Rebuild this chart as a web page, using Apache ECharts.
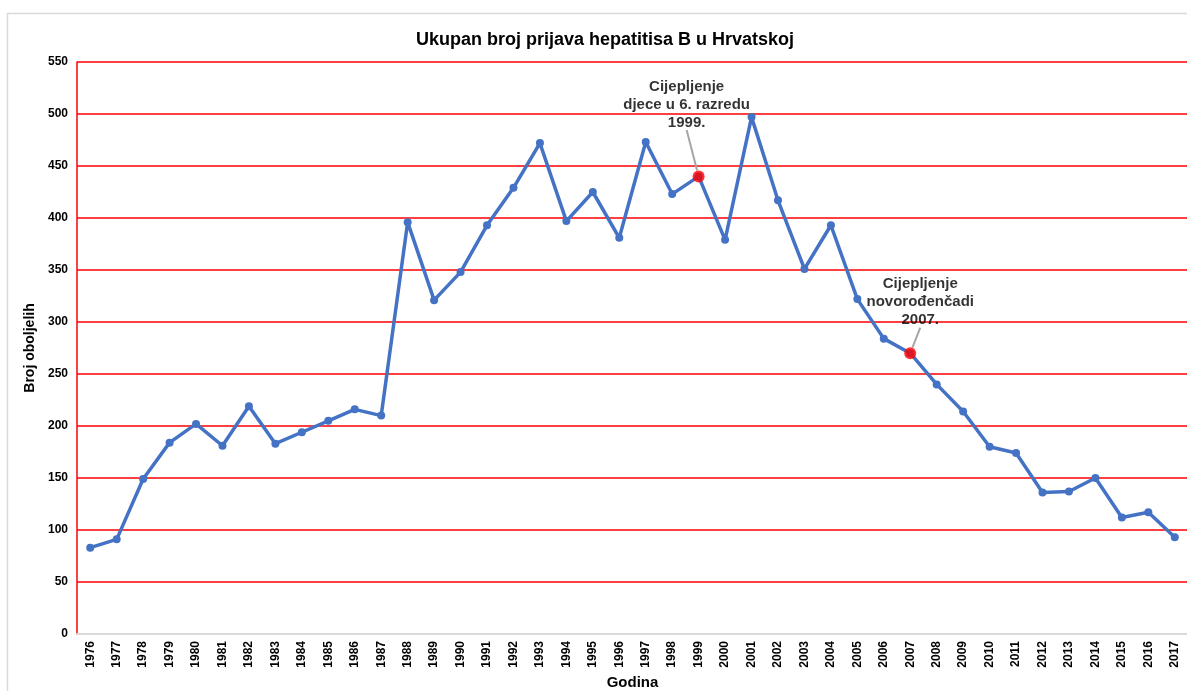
<!DOCTYPE html>
<html>
<head>
<meta charset="UTF-8">
<title>Hepatitis B</title>
<script src="https://cdn.jsdelivr.net/npm/echarts@6/dist/echarts.min.js"></script>
<style>
html, body { margin: 0; padding: 0; background: #fff; }
#chart { width: 1187px; height: 691px; }
</style>
</head>
<body>
<div id="chart"></div>
<script>
const years = ['1976','1977','1978','1979','1980','1981','1982','1983','1984','1985','1986','1987','1988','1989','1990','1991','1992','1993','1994','1995','1996','1997','1998','1999','2000','2001','2002','2003','2004','2005','2006','2007','2008','2009','2010','2011','2012','2013','2014','2015','2016','2017'];
const cases = [83, 91, 149, 184, 202, 181, 219, 183, 194, 205, 216, 210, 396, 321, 348, 393, 429, 472, 397, 425, 381, 473, 423, 440, 379, 497, 417, 351, 393, 322, 284, 270, 240, 214, 180, 174, 136, 137, 150, 112, 117, 93];
// annotated years: [year, text lines, dx, dy]
const notes = [
    ['1999', ['Cijepljenje', 'djece u 6. razredu', '1999.'], -12, -34],
    ['2007', ['Cijepljenje', 'novorođenčadi', '2007.'], 10, -13]
];

const chart = echarts.init(document.getElementById('chart'));
const font = 'Arial, "Liberation Sans", sans-serif';

const noteData = notes.map(function (n) {
    const i = years.indexOf(n[0]);
    return {
        value: [n[0], cases[i]],
        label: {
            formatter: n[1].map(function (s) { return '{t|' + s + '}'; }).join('\n')
        },
        dx: n[2], dy: n[3]
    };
});

chart.setOption({
    animation: false,
    textStyle: { fontFamily: font },
    title: {
        text: 'Ukupan broj prijava hepatitisa B u Hrvatskoj',
        left: 600, top: 26, textAlign: 'center',
        textStyle: { fontSize: 18, fontWeight: 'bold', color: '#000', fontFamily: font }
    },
    graphic: [{
        type: 'rect', silent: true, z: -1,
        shape: { x: 7.5, y: 13.5, width: 1300, height: 800 },
        style: { fill: 'none', stroke: '#d9d9d9', lineWidth: 1.5 }
    }],
    grid: { left: 77, right: -1, top: 62, bottom: 57, outerBoundsMode: 'none', containLabel: false },
    xAxis: {
        type: 'category',
        data: years,
        boundaryGap: true,
        z: 2,
        name: 'Godina',
        nameLocation: 'middle',
        nameGap: 39,
        nameTextStyle: { fontSize: 15, fontWeight: 'bold', color: '#000' },
        axisLine: { lineStyle: { color: '#d9d9d9', width: 2 } },
        axisTick: { show: false },
        axisLabel: {
            rotate: 90, interval: 0, margin: 7,
            fontSize: 12, fontWeight: 'bold', color: '#000'
        }
    },
    yAxis: {
        type: 'value',
        min: 0, max: 550, interval: 50,
        name: 'Broj oboljelih',
        nameLocation: 'middle',
        nameGap: 36,
        nameTextStyle: { fontSize: 14, fontWeight: 'bold', color: '#000' },
        axisLine: { show: true, lineStyle: { color: '#ff0000', width: 1.5 } },
        axisTick: { show: false },
        axisLabel: { fontSize: 12, fontWeight: 'bold', color: '#000', margin: 9 },
        splitLine: { lineStyle: { color: '#ff0000', width: 1.5 } }
    },
    series: [{
        type: 'line',
        data: cases,
        symbol: 'circle',
        symbolSize: 8,
        lineStyle: { color: '#4472c4', width: 3.5 },
        itemStyle: { color: '#4472c4' }
    }, {
        type: 'scatter',
        data: noteData,
        symbolSize: 12,
        z: 5,
        itemStyle: { color: '#ff0000' },
        label: {
            show: true,
            position: 'top',
            align: 'center',
            rich: {
                t: {
                    fontSize: 15,
                    fontWeight: 'bold',
                    color: '#000',
                    lineHeight: 18,
                    align: 'center',
                    fontFamily: font
                }
            }
        },
        labelLine: {
            show: true,
            lineStyle: { color: '#a6a6a6', width: 2 }
        },
        labelLayout: function (p) {
            const d = noteData[p.dataIndex];
            return { dx: d.dx, dy: d.dy };
        }
    }]
});
</script>
</body>
</html>
